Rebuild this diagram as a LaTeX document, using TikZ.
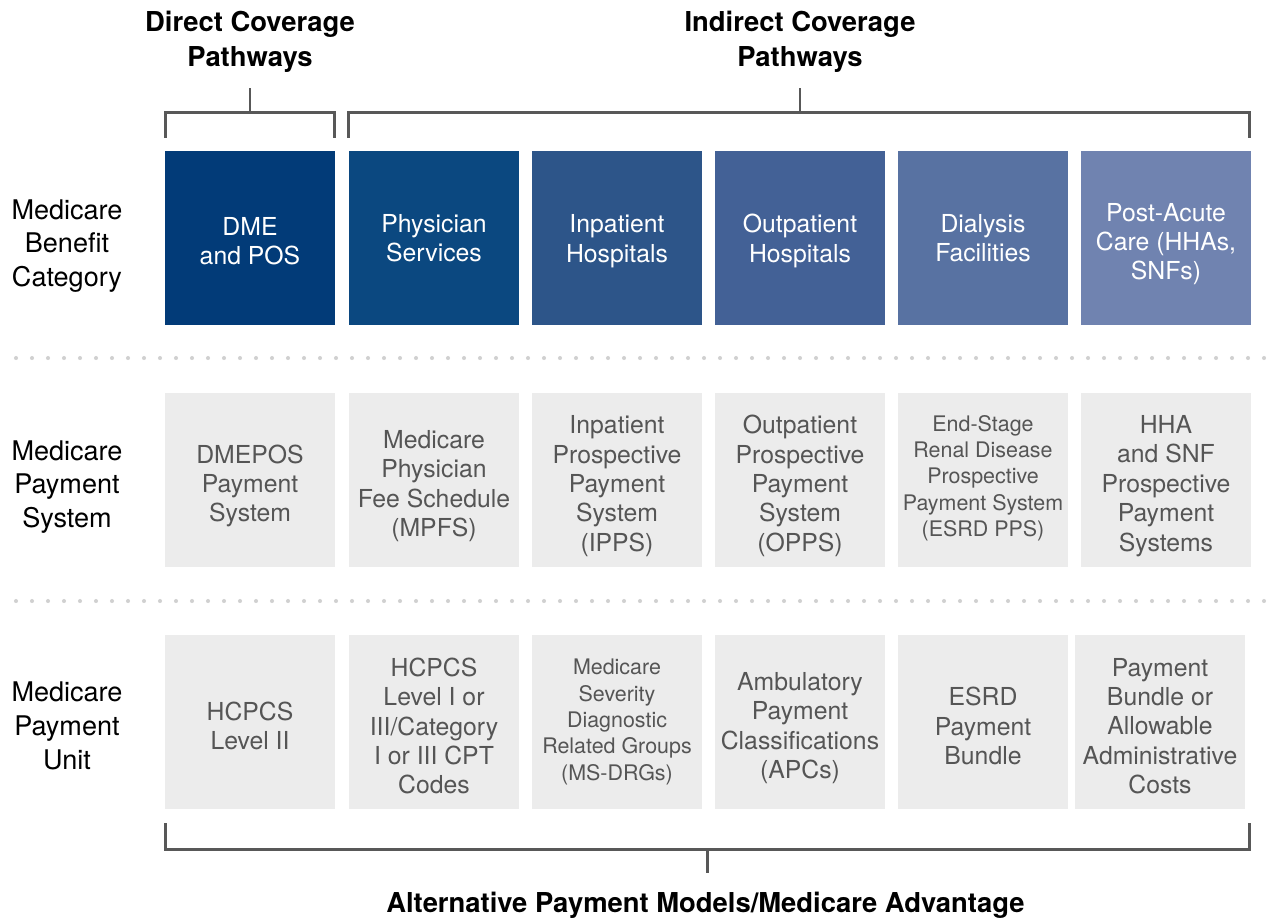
\documentclass[tikz,border=0pt]{standalone}
\usepackage{fontspec}
\setmainfont{TeX Gyre Heros}
\usetikzlibrary{calc}
\definecolor{benefitA}{RGB}{2,59,120}
\definecolor{benefitB}{RGB}{11,72,128}
\definecolor{benefitC}{RGB}{45,85,137}
\definecolor{benefitD}{RGB}{67,97,150}
\definecolor{benefitE}{RGB}{88,114,162}
\definecolor{benefitF}{RGB}{112,131,176}
\definecolor{boxGray}{RGB}{236,236,236}
\definecolor{textGray}{RGB}{85,85,85}
\definecolor{dotGray}{RGB}{208,208,208}
\definecolor{bracketGray}{RGB}{88,88,88}
\newcommand{\dotRule}[1]{%
  \foreach \dx in {16,32,...,1276}
    \fill[dotGray] (\dx,#1) circle[radius=1.15pt];
}

\begin{document}
\begin{tikzpicture}[%
  x=0.02cm, y=-0.02cm,%
  boxStyle/.style={inner sep=0pt, minimum width=3.4cm, minimum height=3.48cm},%
  benefitBox/.style={boxStyle, fill=#1},%
  paymentBox/.style={boxStyle, fill=boxGray},%
  cellText/.style={inner sep=0pt, align=center, font=\fontsize{14.1}{16.7}\selectfont},%
  benefitText/.style={cellText, text=white},%
  paymentText/.style={cellText, text=textGray},%
  smallText/.style={font=\fontsize{12.2}{15}\selectfont},%
  rowLabel/.style={align=center, font=\fontsize{15.4}{19.3}\selectfont},%
  headStyle/.style={align=center, font=\bfseries\fontsize{15.6}{19.8}\selectfont},%
  bracketStyle/.style={draw=bracketGray, line width=1.4pt}%
]
%
\useasboundingbox (0,0) rectangle (1282,920);
%
% Row labels.
\node[rowLabel] (benefitLabel) at (67,246) {Medicare\\Benefit\\Category};
\node[rowLabel] (systemLabel)  at (67,487) {Medicare\\Payment\\System};
\node[rowLabel] (unitLabel)    at (67,726) {Medicare\\Payment\\Unit};
%
% Benefit categories.
\node[benefitBox=benefitA] (dme)        at (250,238)  {};
\node[benefitBox=benefitB] (physician)  at (434,238)  {};
\node[benefitBox=benefitC] (inpatient)  at (617,238)  {};
\node[benefitBox=benefitD] (outpatient) at (800,238)  {};
\node[benefitBox=benefitE] (dialysis)   at (983,238)  {};
\node[benefitBox=benefitF] (postAcute)  at (1166,238) {};
\node[benefitText] (dmeText)        at ($(dme)+(0,3)$)        {DME\\and POS};
\node[benefitText] (physicianText)  at ($(physician)+(0,0)$)  {Physician\\Services};
\node[benefitText] (inpatientText)  at ($(inpatient)+(0,3)$)  {Inpatient\\Hospitals};
\node[benefitText] (outpatientText) at ($(outpatient)+(0,3)$) {Outpatient\\Hospitals};
\node[benefitText] (dialysisText)   at ($(dialysis)+(0,0)$)   {Dialysis\\Facilities};
\node[benefitText] (postAcuteText)  at ($(postAcute)+(0,6)$)  {Post-Acute\\Care (HHAs,\\SNFs)};
%
\dotRule{358}
%
% Payment systems.
\node[paymentBox] (dmeposSystem) at (250,480)  {};
\node[paymentBox] (mpfsSystem)   at (434,480)  {};
\node[paymentBox] (ippsSystem)   at (617,480)  {};
\node[paymentBox] (oppsSystem)   at (800,480)  {};
\node[paymentBox] (esrdSystem)   at (983,480)  {};
\node[paymentBox] (hhaSystem)    at (1166,480) {};
\node[paymentText] (dmeposText) at ($(dmeposSystem)+(0,6)$) {DMEPOS\\Payment\\System};
\node[paymentText] (mpfsText)   at ($(mpfsSystem)+(0,6)$)   {Medicare\\Physician\\Fee Schedule\\(MPFS)};
\node[paymentText] (ippsText)   at ($(ippsSystem)+(0,6)$)   {Inpatient\\Prospective\\Payment\\System\\(IPPS)};
\node[paymentText] (oppsText)   at ($(oppsSystem)+(0,6)$)   {Outpatient\\Prospective\\Payment\\System\\(OPPS)};
\node[paymentText, smallText] (esrdText) at ($(esrdSystem)+(0,-2)$) {End-Stage\\Renal Disease\\Prospective\\Payment System\\(ESRD PPS)};
\node[paymentText] (hhaText)    at ($(hhaSystem)+(0,6)$)    {HHA\\and SNF\\Prospective\\Payment\\Systems};
%
\dotRule{601}
%
% Payment units.
\node[paymentBox] (hcpcsTwo)   at (250,722)  {};
\node[paymentBox] (cptCodes)   at (434,722)  {};
\node[paymentBox] (msDrgs)     at (617,722)  {};
\node[paymentBox] (apcs)       at (800,722)  {};
\node[paymentBox] (esrdBundle) at (983,722)  {};
\node[paymentBox] (adminCosts) at (1160,722) {};
\node[paymentText] (hcpcsTwoText) at ($(hcpcsTwo)+(0,4)$) {HCPCS\\Level II};
\node[paymentText] (cptText)      at ($(cptCodes)+(0,4)$) {HCPCS\\Level I or\\III/Category\\I or III CPT\\Codes};
\node[paymentText, smallText] (msDrgsText) at ($(msDrgs)+(0,0)$) {Medicare\\Severity\\Diagnostic\\Related Groups\\(MS-DRGs)};
\node[paymentText] (apcsText)     at ($(apcs)+(0,6)$)     {Ambulatory\\Payment\\Classifications\\(APCs)};
\node[paymentText] (bundleText)   at ($(esrdBundle)+(0,4)$) {ESRD\\Payment\\Bundle};
\node[paymentText] (adminText)    at ($(adminCosts)+(0,4)$) {Payment\\Bundle or\\Allowable\\Administrative\\Costs};
%
% Coverage pathway brackets.
\node[headStyle] (directHead)   at (250,42) {Direct Coverage\\Pathways};
\node[headStyle] (indirectHead) at (800,42) {Indirect Coverage\\Pathways};
\coordinate (directLeft)    at ($(dme.north west)+(1,-13)$);
\coordinate (directRight)   at ($(dme.north east)+(-1,-13)$);
\coordinate (indirectLeft)  at ($(physician.north west)+(0,-13)$);
\coordinate (indirectRight) at ($(postAcute.north east)+(-2,-13)$);
\draw[bracketStyle] (directLeft) -- ++(0,-25) -| (directRight);
\draw[bracketStyle] (indirectLeft) -- ++(0,-25) -| (indirectRight);
\draw[bracketStyle] ($(dme.north)+(0,-38)$) -- ++(0,-25);
\draw[bracketStyle] ($(outpatient.north)+(0,-38)$) -- ++(0,-25);
%
% Alternative payment models bracket.
\coordinate (altLeft)  at ($(hcpcsTwo.south west)+(1,14)$);
\coordinate (altRight) at ($(hhaSystem.east |- hcpcsTwo.south)+(-2,14)$);
\draw[bracketStyle] (altLeft) -- ++(0,26) -| (altRight);
\draw[bracketStyle] ($(altLeft)!0.5!(altRight)+(0,26)$) -- ++(0,24);
\node[headStyle] (altHead) at ($(altLeft)!0.5!(altRight)+(-2,82)$)
  {Alternative Payment Models/Medicare Advantage};
\end{tikzpicture}
\end{document}
